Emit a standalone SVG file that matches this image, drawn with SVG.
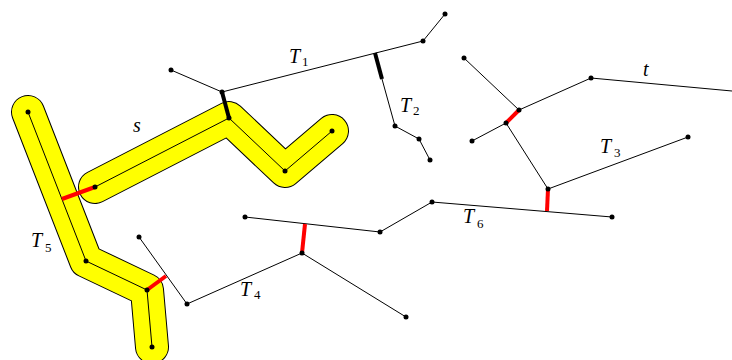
<svg xmlns="http://www.w3.org/2000/svg" width="732" height="360" viewBox="0 0 732 360">
<style>
.bo{fill:none;stroke:#000;stroke-width:34;stroke-linejoin:round;stroke-linecap:round}
.bi{fill:none;stroke:#ffff00;stroke-width:32;stroke-linejoin:round;stroke-linecap:round}
.e{fill:none;stroke:#000;stroke-width:1}
.r{fill:none;stroke:#ff0000;stroke-width:4}
.k{fill:none;stroke:#000;stroke-width:4}
.d{fill:#000}
.lb{font-family:"Liberation Serif",serif;font-style:italic;font-size:20px;fill:#000}
.sb{font-family:"Liberation Serif",serif;font-size:13px;fill:#000}
</style>
<g id="highlight">
<path class="bo" d="M28,112 L86,261 L147,290 L152,347"/>
<path class="bi" d="M28,112 L86,261 L147,290 L152,347"/>
<path class="bo" d="M95,187 L229,118 L285,171 L332,131"/>
<path class="bi" d="M95,187 L229,118 L285,171 L332,131"/>
</g>
<g id="connectors">
<path class="e" d="M28,112 L86,261 L147,290 L152,347"/>
<path class="e" d="M95,187 L229,118 L285,171 L332,131"/>
<path class="e" d="M171,70 L222,92 L423,41 L445,14"/>
<path class="e" d="M382,79 L395,126 L419,139 L430,160"/>
<path class="e" d="M464,58 L519,110 L591,78 L732,91"/>
<path class="e" d="M472,141 L506,123 L548,189 L688,137"/>
<path class="e" d="M245,217 L380,232 L432,202 L612,217"/>
<path class="e" d="M139,237 L187,304 L302,253 L406,317"/>
<path class="k" d="M222,92 L229,118"/>
<path class="k" d="M375,53 L382,79"/>
<path class="r" d="M95,187 L62,199"/>
<path class="r" d="M147,290 L166,276"/>
<path class="r" d="M302,253 L305,224"/>
<path class="r" d="M519,110 L506,123"/>
<path class="r" d="M548,189 L547,211"/>
</g>
<g id="T5"><circle class="d" cx="28" cy="112" r="2.5"/><circle class="d" cx="86" cy="261" r="2.5"/><circle class="d" cx="147" cy="290" r="2.5"/><circle class="d" cx="152" cy="347" r="2.5"/>
<text class="lb" x="31" y="247">T</text><text class="sb" x="45" y="252">5</text></g>
<g id="s"><circle class="d" cx="95" cy="187" r="2.5"/><circle class="d" cx="229" cy="118" r="2.5"/><circle class="d" cx="285" cy="171" r="2.5"/><circle class="d" cx="332" cy="131" r="2.5"/>
<text class="lb" x="133" y="132">s</text></g>
<g id="T1"><circle class="d" cx="171" cy="70" r="2.5"/><circle class="d" cx="222" cy="92" r="2.5"/><circle class="d" cx="423" cy="41" r="2.5"/><circle class="d" cx="445" cy="14" r="2.5"/>
<text class="lb" x="289" y="63">T</text><text class="sb" x="302" y="66">1</text></g>
<g id="T2"><circle class="d" cx="395" cy="126" r="2.5"/><circle class="d" cx="419" cy="139" r="2.5"/><circle class="d" cx="430" cy="160" r="2.5"/>
<text class="lb" x="400" y="112">T</text><text class="sb" x="413" y="115">2</text></g>
<g id="t"><circle class="d" cx="464" cy="58" r="2.5"/><circle class="d" cx="519" cy="110" r="2.5"/><circle class="d" cx="591" cy="78" r="2.5"/>
<text class="lb" x="643" y="76">t</text></g>
<g id="T3"><circle class="d" cx="472" cy="141" r="2.5"/><circle class="d" cx="506" cy="123" r="2.5"/><circle class="d" cx="548" cy="189" r="2.5"/><circle class="d" cx="688" cy="137" r="2.5"/>
<text class="lb" x="600" y="153">T</text><text class="sb" x="614" y="157">3</text></g>
<g id="T6"><circle class="d" cx="245" cy="217" r="2.5"/><circle class="d" cx="380" cy="232" r="2.5"/><circle class="d" cx="432" cy="202" r="2.5"/><circle class="d" cx="612" cy="217" r="2.5"/>
<text class="lb" x="463" y="223">T</text><text class="sb" x="477" y="228">6</text></g>
<g id="T4"><circle class="d" cx="139" cy="237" r="2.5"/><circle class="d" cx="187" cy="304" r="2.5"/><circle class="d" cx="302" cy="253" r="2.5"/><circle class="d" cx="406" cy="317" r="2.5"/>
<text class="lb" x="240" y="296">T</text><text class="sb" x="254" y="299">4</text></g>
</svg>
